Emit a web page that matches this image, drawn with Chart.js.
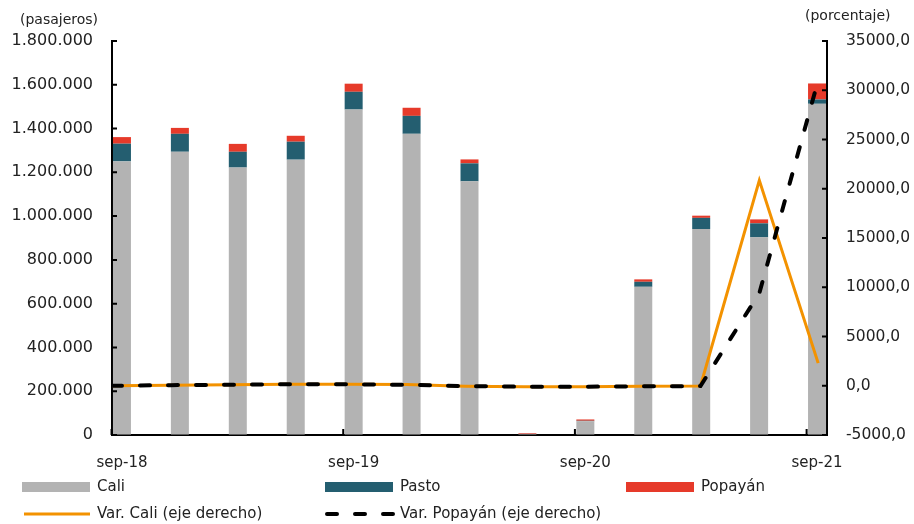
<!DOCTYPE html>
<html>
<head>
<meta charset="utf-8">
<script src="https://cdn.jsdelivr.net/npm/chart.js@4"></script>
<style>
  html, body { margin: 0; padding: 0; background: #fff; }
  #wrap { width: 914px; height: 524px; }
</style>
</head>
<body>
<div id="wrap"><canvas id="paxChart" width="914" height="524"></canvas></div>
<script>
// quarterly passengers by airport, with annual variation (%)
const categories = ["sep-18", "dic-18", "mar-19", "jun-19", "sep-19", "dic-19", "mar-20",
                    "jun-20", "sep-20", "dic-20", "mar-21", "jun-21", "sep-21"];
const tickLabels = ["sep-18", "sep-19", "sep-20", "sep-21"];

const cali    = [1250000, 1294000, 1222000, 1258000, 1487000, 1376000, 1159000, 4400, 63000, 677000, 941000, 903000, 1513000];
const pasto   = [81000, 82000, 72000, 82000, 81000, 82000, 82000, 500, 2000, 23000, 51000, 64000, 20000];
const popayan = [30000, 27000, 36000, 27000, 37000, 37000, 18000, 3000, 6000, 11000, 10000, 18000, 73000];

const varCali    = [0, 40, 100, 150, 150, 120, -50, -99, -95, -45, -20, 20850, 2300];
const varPopayan = [0, 60, 100, 150, 150, 100, -30, -99, -98, -60, -30, 9400, 31000];

const FONT = "DejaVu Sans";
const TXT = "#222";

const toPoints = arr => arr.map((v, i) => ({ x: i, y: v }));
const thousands = v => String(Math.round(v)).replace(/\B(?=(\d{3})+(?!\d))/g, ".");

// ticks point inward, drawn by hand
const axisMarks = {
  id: "axisMarks",
  afterDraw(chart) {
    const ctx = chart.ctx;
    const area = chart.chartArea;
    const { x, y, y1 } = chart.scales;
    ctx.save();
    ctx.strokeStyle = "#000";
    ctx.lineWidth = 2;
    ctx.beginPath();
    y.ticks.forEach(t => {
      const py = y.getPixelForValue(t.value);
      ctx.moveTo(area.left, py); ctx.lineTo(area.left + 5, py);
    });
    y1.ticks.forEach(t => {
      const py = y1.getPixelForValue(t.value);
      ctx.moveTo(area.right - 5, py); ctx.lineTo(area.right, py);
    });
    x.ticks.forEach(t => {
      const px = x.getPixelForValue(t.value - 0.18);
      ctx.moveTo(px, area.bottom); ctx.lineTo(px, area.bottom - 6);
    });
    ctx.stroke();

    ctx.fillStyle = TXT;
    ctx.font = "14px '" + FONT + "'";
    ctx.textBaseline = "middle";
    ctx.textAlign = "left";
    ctx.fillText("(pasajeros)", 20, 20);
    ctx.fillText("(porcentaje)", 805, 16);
    ctx.restore();
  }
};

// three-column legend under the plot
const gridLegend = {
  id: "gridLegend",
  afterDraw(chart) {
    const ctx = chart.ctx;
    const cols = [22, 325, 626];
    const rows = [487, 514];
    ctx.save();
    ctx.font = "15px '" + FONT + "'";
    ctx.textBaseline = "middle";
    ctx.fillStyle = TXT;
    chart.data.datasets.forEach((ds, i) => {
      const x0 = cols[i % 3];
      const yc = rows[Math.floor(i / 3)];
      if (ds.type === "bar") {
        ctx.fillStyle = ds.backgroundColor;
        ctx.fillRect(x0, yc - 5, 68, 10);
      } else {
        ctx.strokeStyle = ds.borderColor;
        ctx.lineWidth = ds.borderWidth;
        ctx.lineCap = ds.borderCapStyle || "butt";
        ctx.setLineDash(ds.borderDash || []);
        ctx.beginPath();
        ctx.moveTo(x0 + 2, yc); ctx.lineTo(x0 + 68, yc);
        ctx.stroke();
        ctx.setLineDash([]);
      }
      ctx.fillStyle = TXT;
      ctx.fillText(ds.label, x0 + 75, yc);
    });
    ctx.restore();
  }
};

const barDs = (label, data, color) => ({
  type: "bar", label: label, data: toPoints(data),
  backgroundColor: color, maxBarThickness: 18, grouped: false,
  stack: "pax", order: 2, xAxisID: "x", yAxisID: "y"
});

new Chart(document.getElementById("paxChart"), {
  data: {
    datasets: [
      barDs("Cali", cali, "#b3b3b3"),
      barDs("Pasto", pasto, "#245e70"),
      barDs("Popayán", popayan, "#e63a2a"),
      {
        type: "line", label: "Var. Cali (eje derecho)", data: toPoints(varCali),
        borderColor: "#f39200", borderWidth: 3, pointRadius: 0, tension: 0,
        order: 1, xAxisID: "x2", yAxisID: "y1"
      },
      {
        type: "line", label: "Var. Popayán (eje derecho)", data: toPoints(varPopayan),
        borderColor: "#000", borderWidth: 4, borderDash: [10, 18], borderCapStyle: "round",
        pointRadius: 0, tension: 0, order: 0, xAxisID: "x2", yAxisID: "y1"
      }
    ]
  },
  options: {
    responsive: false,
    animation: false,
    layout: { padding: { top: 41, left: 0, right: 0, bottom: 0 } },
    plugins: { legend: { display: false }, tooltip: { enabled: false } },
    scales: {
      x: {
        type: "linear", position: "bottom", stacked: true, offset: false,
        min: -0.172, max: 12.172,
        afterBuildTicks: s => { s.ticks = tickLabels.map(l => ({ value: categories.indexOf(l) })); },
        afterFit: s => { s.height = 89; },
        grid: { drawOnChartArea: false, drawTicks: false, offset: false },
        border: { display: true, color: "#000", width: 2 },
        ticks: {
          padding: 19, maxRotation: 0, autoSkip: false, color: TXT,
          font: { family: FONT, size: 15 },
          callback: v => categories[v]
        }
      },
      x2: { type: "linear", display: false, offset: false, min: 0, max: 12.15 },
      y: {
        position: "left", stacked: true, min: 0, max: 1800000,
        afterFit: s => { s.width = 112; },
        grid: { drawOnChartArea: false, drawTicks: false },
        border: { display: true, color: "#000", width: 2 },
        ticks: {
          stepSize: 200000, padding: 19, color: TXT,
          font: { family: FONT, size: 16 },
          callback: v => thousands(v)
        }
      },
      y1: {
        position: "right", min: -5000, max: 35000,
        afterFit: s => { s.width = 87; },
        grid: { drawOnChartArea: false, drawTicks: false },
        border: { display: true, color: "#000", width: 2 },
        ticks: {
          stepSize: 5000, padding: 19, color: TXT,
          font: { family: FONT, size: 15.5 },
          callback: v => v.toFixed(1).replace(".", ",")
        }
      }
    }
  },
  plugins: [axisMarks, gridLegend]
});
</script>
</body>
</html>
